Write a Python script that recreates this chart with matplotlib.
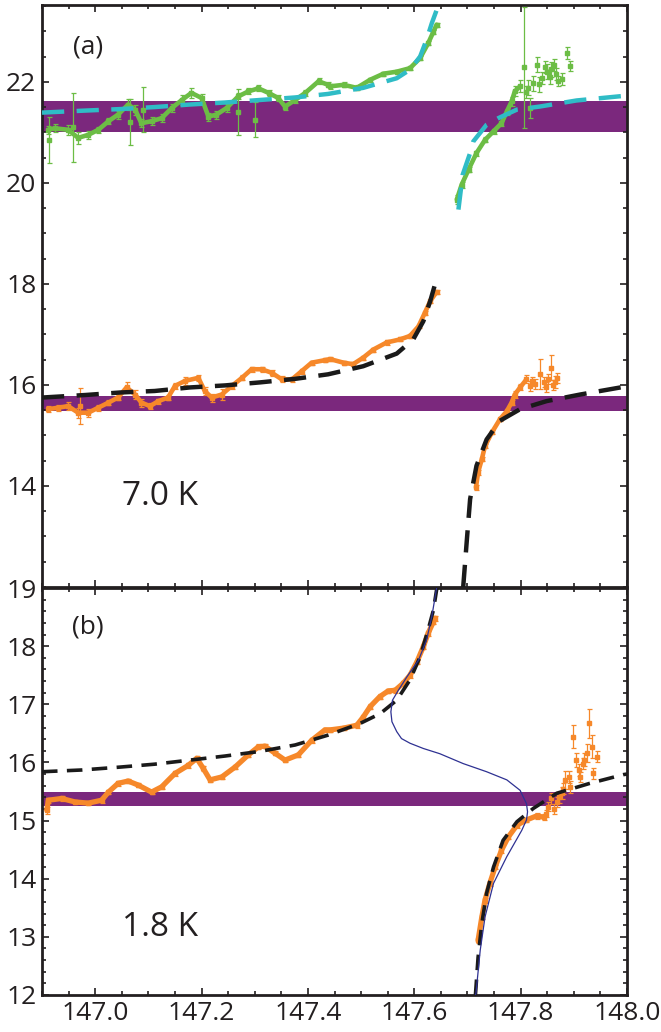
import matplotlib
matplotlib.use('Agg')
import matplotlib.pyplot as plt
from matplotlib.ticker import MultipleLocator, FixedLocator, FormatStrFormatter

plt.rcParams['font.family'] = ['Open Sans', 'DejaVu Sans']

# ---------------- Panel (a), 7.0 K ----------------
# green, lower-field branch
green_l_x = [146.912, 146.924, 146.949, 146.968, 146.987, 147.006, 147.025, 147.043, 147.062, 147.075,
             147.087, 147.106, 147.125, 147.144, 147.163, 147.181, 147.200, 147.213, 147.228, 147.247,
             147.269, 147.288, 147.307, 147.326, 147.344, 147.357, 147.376, 147.395, 147.420, 147.438,
             147.442, 147.467, 147.492, 147.517, 147.542, 147.567, 147.592, 147.611, 147.626, 147.636,
             147.642]
green_l_y = [21.05, 21.08, 21.05, 20.89, 20.95, 21.05, 21.22, 21.35, 21.55, 21.45,
             21.18, 21.22, 21.28, 21.48, 21.64, 21.78, 21.68, 21.31, 21.35, 21.48,
             21.71, 21.81, 21.87, 21.78, 21.68, 21.51, 21.64, 21.78, 22.01, 21.94,
             21.91, 21.94, 21.88, 22.04, 22.16, 22.20, 22.27, 22.47, 22.76, 22.99,
             23.13]
green_l_err = [0.08, 0.08, 0.10, 0.12, 0.08, 0.06, 0.06, 0.08, 0.10, 0.10,
               0.08, 0.08, 0.08, 0.08, 0.10, 0.10, 0.08, 0.08, 0.08, 0.08,
               0.06, 0.06, 0.06, 0.06, 0.06, 0.06, 0.06, 0.06, 0.06, 0.05,
               0.05, 0.05, 0.05, 0.04, 0.04, 0.04, 0.04, 0.04, 0.04, 0.04,
               0.04]
# green points with large error bars
green_o_x = [146.914, 146.959, 147.065, 147.090, 147.269, 147.300, 147.806, 147.817]
green_o_y = [20.85, 21.10, 21.20, 21.45, 21.40, 21.25, 22.29, 21.48]
green_o_err = [0.45, 0.68, 0.45, 0.45, 0.45, 0.35, 1.20, 0.20]
# green, upper-field branch (smooth part)
green_r_x = [147.680, 147.689, 147.702, 147.717, 147.733, 147.749, 147.764, 147.774, 147.783, 147.789,
             147.799]
green_r_y = [19.67, 19.96, 20.26, 20.59, 20.85, 21.02, 21.18, 21.41, 21.61, 21.81,
             21.91]
green_r_err = [0.08, 0.06, 0.05, 0.05, 0.05, 0.05, 0.05, 0.06, 0.08, 0.10,
               0.12]
# green, upper-field branch (scattered tail)
green_t_x = [147.814, 147.824, 147.830, 147.840, 147.849, 147.855, 147.863, 147.871, 147.887, 147.892,
             147.810, 147.835, 147.845, 147.858, 147.866, 147.878]
green_t_y = [21.88, 21.97, 22.34, 22.07, 22.20, 22.10, 22.34, 22.01, 22.57, 22.32,
             21.80, 21.95, 22.30, 22.25, 22.15, 22.05]
green_t_err = [0.15, 0.15, 0.15, 0.12, 0.15, 0.15, 0.12, 0.10, 0.12, 0.10,
               0.12, 0.15, 0.12, 0.15, 0.12, 0.12]

# cyan dashed fit
cyan_l_x = [146.900, 146.981, 147.047, 147.112, 147.178, 147.244, 147.310, 147.376, 147.438, 147.504,
            147.567, 147.592, 147.611, 147.623, 147.633, 147.641, 147.646]
cyan_l_y = [21.39, 21.43, 21.46, 21.50, 21.55, 21.59, 21.64, 21.69, 21.76, 21.88,
            22.07, 22.24, 22.50, 22.83, 23.16, 23.39, 23.55]
cyan_r_x = [147.683, 147.688, 147.691, 147.705, 147.711, 147.736, 147.758, 147.793, 147.836, 147.905,
            147.993, 148.000]
cyan_r_y = [19.47, 19.90, 20.16, 20.59, 20.82, 21.15, 21.28, 21.45, 21.51, 21.63,
            21.72, 21.73]

# orange (panel a), lower-field branch
orange_a_l_x = [146.912, 146.931, 146.949, 146.968, 146.987, 147.006, 147.025, 147.043, 147.059, 147.075,
                147.087, 147.103, 147.119, 147.137, 147.150, 147.169, 147.194, 147.206, 147.219, 147.238,
                147.257, 147.276, 147.294, 147.313, 147.332, 147.351, 147.370, 147.388, 147.407, 147.432,
                147.442, 147.467, 147.485, 147.504, 147.523, 147.548, 147.573, 147.592, 147.608, 147.620,
                147.630, 147.642]
orange_a_l_y = [15.52, 15.55, 15.58, 15.45, 15.45, 15.55, 15.65, 15.75, 15.95, 15.81,
                15.65, 15.58, 15.68, 15.75, 15.98, 16.08, 16.14, 15.88, 15.75, 15.81,
                15.98, 16.14, 16.31, 16.31, 16.24, 16.11, 16.11, 16.27, 16.44, 16.49,
                16.51, 16.44, 16.41, 16.54, 16.70, 16.84, 16.90, 16.97, 17.16, 17.43,
                17.66, 17.84]
orange_a_l_err = [0.06, 0.06, 0.08, 0.10, 0.08, 0.06, 0.05, 0.05, 0.10, 0.08,
                  0.08, 0.06, 0.05, 0.05, 0.06, 0.08, 0.06, 0.08, 0.08, 0.10,
                  0.06, 0.05, 0.05, 0.05, 0.06, 0.06, 0.05, 0.05, 0.04, 0.04,
                  0.04, 0.04, 0.04, 0.04, 0.04, 0.04, 0.04, 0.04, 0.04, 0.04,
                  0.04, 0.04]
orange_a_o_x = [146.971]
orange_a_o_y = [15.58]
orange_a_o_err = [0.36]
# orange (panel a), upper-field branch (smooth part)
orange_a_r_x = [147.716, 147.720, 147.727, 147.733, 147.746, 147.761, 147.774, 147.783, 147.789, 147.799,
                147.811]
orange_a_r_y = [13.97, 14.27, 14.53, 14.79, 15.06, 15.32, 15.48, 15.65, 15.81, 15.95,
                16.11]
orange_a_r_err = [0.05, 0.05, 0.04, 0.04, 0.04, 0.04, 0.05, 0.05, 0.06, 0.06,
                  0.08]
# orange (panel a), scattered tail
orange_a_t_x = [147.818, 147.827, 147.836, 147.843, 147.852, 147.857, 147.865, 147.868, 147.822, 147.847,
                147.861]
orange_a_t_y = [15.98, 16.01, 16.21, 16.05, 16.11, 16.34, 16.05, 16.14, 16.08, 15.95,
                16.00]
orange_a_t_err = [0.10, 0.10, 0.30, 0.10, 0.10, 0.25, 0.12, 0.10, 0.08, 0.10,
                  0.10]

# black dashed fit (panel a)
black_a_l_x = [146.900, 146.981, 147.047, 147.112, 147.178, 147.244, 147.310, 147.376, 147.438, 147.504,
               147.567, 147.598, 147.617, 147.630, 147.639]
black_a_l_y = [15.75, 15.80, 15.85, 15.88, 15.95, 15.99, 16.05, 16.12, 16.21, 16.37,
               16.62, 16.90, 17.26, 17.66, 17.99]
black_a_r_x = [147.692, 147.699, 147.705, 147.717, 147.736, 147.761, 147.799, 147.849, 147.912, 147.993,
               148.000]
black_a_r_y = [12.00, 12.95, 13.74, 14.40, 14.92, 15.29, 15.52, 15.68, 15.81, 15.96,
               15.97]

# purple bands (panel a)
band_a_green = (21.00, 21.61)
band_a_orange = (15.48, 15.79)

# ---------------- Panel (b), 1.8 K ----------------
orange_b_l_x = [146.909, 146.912, 146.937, 146.962, 146.987, 147.012, 147.025, 147.043, 147.062, 147.081,
                147.106, 147.125, 147.150, 147.175, 147.191, 147.203, 147.216, 147.238, 147.263, 147.288,
                147.307, 147.319, 147.338, 147.357, 147.382, 147.407, 147.432, 147.442, 147.467, 147.492,
                147.504, 147.517, 147.535, 147.551, 147.564, 147.579, 147.592, 147.605, 147.617, 147.626,
                147.636, 147.639]
orange_b_l_y = [15.18, 15.35, 15.38, 15.32, 15.30, 15.35, 15.49, 15.64, 15.68, 15.61,
                15.49, 15.58, 15.81, 15.95, 16.07, 15.90, 15.70, 15.75, 15.92, 16.13,
                16.27, 16.28, 16.16, 16.04, 16.13, 16.38, 16.56, 16.56, 16.59, 16.64,
                16.78, 16.96, 17.13, 17.23, 17.24, 17.36, 17.50, 17.73, 17.99, 18.22,
                18.42, 18.48]
orange_b_l_err = [0.06] + [0.04] * 41
orange_b_r_x = [147.720, 147.727, 147.733, 147.742, 147.752, 147.764, 147.777, 147.793, 147.811, 147.830,
                147.843]
orange_b_r_y = [12.94, 13.34, 13.63, 13.92, 14.20, 14.49, 14.72, 14.92, 15.01, 15.08,
                15.06]
orange_b_r_err = [0.04, 0.04, 0.04, 0.04, 0.04, 0.04, 0.04, 0.04, 0.04, 0.05,
                  0.05]
orange_b_t_x = [147.852, 147.858, 147.868, 147.877, 147.883, 147.890, 147.893, 147.899, 147.904, 147.909,
                147.912, 147.918, 147.924, 147.929, 147.934, 147.937, 147.943, 147.848, 147.863, 147.872,
                147.880, 147.920]
orange_b_t_y = [15.24, 15.38, 15.32, 15.47, 15.70, 15.75, 15.58, 16.44, 16.04, 15.87,
                15.75, 15.98, 16.16, 16.67, 16.27, 15.81, 16.10, 15.12, 15.20, 15.40,
                15.55, 16.05]
orange_b_t_err = [0.08, 0.10, 0.08, 0.10, 0.15, 0.10, 0.10, 0.20, 0.12, 0.10,
                  0.08, 0.10, 0.15, 0.25, 0.20, 0.10, 0.10, 0.06, 0.08, 0.10,
                  0.10, 0.12]

black_b_l_x = [146.900, 146.975, 147.047, 147.112, 147.178, 147.244, 147.310, 147.376, 147.438, 147.498,
               147.536, 147.567, 147.592, 147.611, 147.626, 147.636, 147.642, 147.645]
black_b_l_y = [15.84, 15.87, 15.92, 15.97, 16.04, 16.11, 16.19, 16.30, 16.47, 16.67,
               16.84, 17.07, 17.42, 17.82, 18.28, 18.62, 18.97, 19.05]
black_b_r_x = [147.715, 147.720, 147.727, 147.736, 147.749, 147.767, 147.793, 147.824, 147.868, 147.930,
               147.993, 148.000]
black_b_r_y = [12.00, 12.65, 13.23, 13.75, 14.20, 14.66, 14.98, 15.21, 15.47, 15.64,
               15.79, 15.80]

blue_x = [147.642, 147.633, 147.623, 147.608, 147.586, 147.570, 147.559, 147.556, 147.558, 147.567,
          147.576, 147.592, 147.617, 147.648, 147.692, 147.736, 147.774, 147.799, 147.811, 147.813,
          147.811, 147.802, 147.774, 147.749, 147.733, 147.724, 147.716, 147.715]
blue_y = [19.00, 18.51, 18.10, 17.76, 17.47, 17.24, 17.07, 16.87, 16.70, 16.53,
          16.41, 16.33, 16.24, 16.15, 15.98, 15.84, 15.70, 15.52, 15.29, 15.15,
          15.01, 14.83, 14.38, 13.92, 13.34, 12.77, 12.03, 12.00]

band_b = (15.25, 15.50)

# ---------------- styling ----------------
GREEN = '#6cbd45'
CYAN = '#2fbcc6'
ORANGE = '#f6882a'
PURPLE = '#7b287d'
BLACK = '#1a1a1a'
BLUE = '#2e3192'
INK = '#231f20'

fig = plt.figure(figsize=(6.61, 10.32), dpi=100)
L = 42 / 661
W = 585 / 661
ax_a = fig.add_axes([L, 1 - 587 / 1032, W, 582 / 1032])
ax_b = fig.add_axes([L, 1 - 995 / 1032, W, 407 / 1032])


def style(ax, ymajor, yminor):
    ax.set_xlim(146.9, 148.0)
    ax.xaxis.set_major_locator(MultipleLocator(0.2))
    ax.xaxis.set_minor_locator(MultipleLocator(0.05))
    ax.yaxis.set_major_locator(ymajor)
    ax.yaxis.set_minor_locator(MultipleLocator(yminor))
    ax.tick_params(which='both', direction='in', top=True, right=True,
                   color=INK, labelcolor=INK, labelsize=19, width=1.2)
    ax.tick_params(which='major', length=5)
    ax.tick_params(which='minor', length=3)
    ax.tick_params(axis='y', pad=4)
    ax.tick_params(axis='x', pad=4)
    for s in ax.spines.values():
        s.set_linewidth(2.0)
        s.set_color(INK)


def series(ax, x, y, err, color, lw):
    ax.plot(x, y, color=color, lw=lw, zorder=3, solid_capstyle='round',
            solid_joinstyle='round')
    ax.errorbar(x, y, yerr=err, fmt='s', ms=2.5, color=color, ecolor=color,
                elinewidth=0.9, capsize=1.8, capthick=0.9, zorder=3)


def scatter_err(ax, x, y, err, color):
    ax.errorbar(x, y, yerr=err, fmt='s', ms=2.8, color=color, ecolor=color,
                elinewidth=0.9, capsize=1.8, capthick=0.9, zorder=3)


DASH = (5, 2.8)

# panel (a)
ax_a.axhspan(*band_a_green, color=PURPLE, lw=0, zorder=1)
ax_a.axhspan(*band_a_orange, color=PURPLE, lw=0, zorder=1)
series(ax_a, green_l_x, green_l_y, green_l_err, GREEN, 3.3)
series(ax_a, green_r_x, green_r_y, green_r_err, GREEN, 3.3)
scatter_err(ax_a, green_t_x, green_t_y, green_t_err, GREEN)
scatter_err(ax_a, green_o_x, green_o_y, green_o_err, GREEN)
series(ax_a, orange_a_l_x, orange_a_l_y, orange_a_l_err, ORANGE, 3.3)
series(ax_a, orange_a_r_x, orange_a_r_y, orange_a_r_err, ORANGE, 3.3)
scatter_err(ax_a, orange_a_t_x, orange_a_t_y, orange_a_t_err, ORANGE)
scatter_err(ax_a, orange_a_o_x, orange_a_o_y, orange_a_o_err, ORANGE)
ax_a.plot(cyan_l_x, cyan_l_y, color=CYAN, lw=3.2, dashes=DASH, zorder=4)
ax_a.plot(cyan_r_x, cyan_r_y, color=CYAN, lw=3.2, dashes=DASH, zorder=4)
ax_a.plot(black_a_l_x, black_a_l_y, color=BLACK, lw=3.2, dashes=DASH, zorder=4)
ax_a.plot(black_a_r_x, black_a_r_y, color=BLACK, lw=3.2, dashes=DASH, zorder=4)
ax_a.set_ylim(12, 23.52)
style(ax_a, FixedLocator([14, 16, 18, 20, 22]), 0.5)
ax_a.tick_params(axis='x', labelbottom=False)
ax_a.text(0.079, 0.928, '(a)', transform=ax_a.transAxes, fontsize=19,
          color=INK, ha='center', va='center')
ax_a.text(0.2017, 0.155, '7.0 K', transform=ax_a.transAxes, fontsize=24,
          color=INK, ha='center', va='center')

# panel (b)
ax_b.axhspan(*band_b, color=PURPLE, lw=0, zorder=1)
series(ax_b, orange_b_l_x, orange_b_l_y, orange_b_l_err, ORANGE, 3.8)
series(ax_b, orange_b_r_x, orange_b_r_y, orange_b_r_err, ORANGE, 3.8)
scatter_err(ax_b, orange_b_t_x, orange_b_t_y, orange_b_t_err, ORANGE)
ax_b.plot(black_b_l_x, black_b_l_y, color=BLACK, lw=2.6, dashes=(4.3, 2.6), zorder=4)
ax_b.plot(black_b_r_x, black_b_r_y, color=BLACK, lw=2.6, dashes=(4.3, 2.6), zorder=4)
ax_b.plot(blue_x, blue_y, color=BLUE, lw=0.9, zorder=5)
ax_b.set_ylim(12, 19)
style(ax_b, MultipleLocator(1), 0.2)
ax_b.xaxis.set_major_formatter(FormatStrFormatter('%.1f'))
ax_b.text(0.079, 0.904, '(b)', transform=ax_b.transAxes, fontsize=19,
          color=INK, ha='center', va='center')
ax_b.text(0.2017, 0.167, '1.8 K', transform=ax_b.transAxes, fontsize=24,
          color=INK, ha='center', va='center')

fig.savefig('out.png', dpi=100)
